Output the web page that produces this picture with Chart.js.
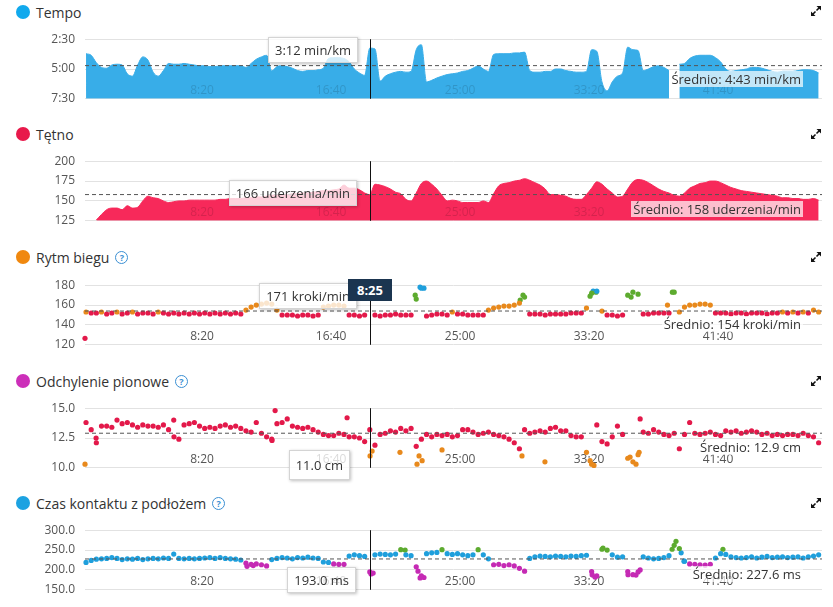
<!DOCTYPE html>
<html>
<head>
<meta charset="utf-8">
<title>Wykresy biegu</title>
<script src="https://cdn.jsdelivr.net/npm/chart.js@4.4.1/dist/chart.umd.min.js"></script>
<style>
  html, body { margin: 0; padding: 0; background: #fff; }
  body { font-family: "Open Sans", sans-serif; color: #333; }
  #wrap { position: relative; width: 833px; height: 607px; overflow: hidden; }
  .title { position: absolute; left: 16px; height: 20px; display: flex; align-items: center; font-size: 14px; color: #333; white-space: nowrap; }
  .dot { width: 14px; height: 14px; border-radius: 50%; margin-right: 6px; }
  .help { width: 11px; height: 11px; border: 1.3px solid #3b8fd3; border-radius: 50%; color: #3b8fd3; font-size: 9px; font-weight: bold; line-height: 11px; text-align: center; margin-left: 6px; }
  .expand { position: absolute; left: 810px; width: 12px; height: 12px; }
  canvas { position: absolute; left: 0; }
  .tip { position: absolute; background: rgba(255,255,255,0.78); border: 1px solid #d4d4d4; box-shadow: 1px 1px 3px rgba(0,0,0,0.25); font-size: 13px; padding: 0 6px; line-height: 24px; white-space: nowrap; }
  .avg { position: absolute; right: 30px; background: rgba(255,255,255,0.7); font-size: 13px; line-height: 16px; padding: 0 2px; white-space: nowrap; }
  .cursor-time { position: absolute; left: 348px; top: 279px; width: 44px; height: 22px; background: #1b3550; color: #fff; font-size: 13px; font-weight: bold; line-height: 22px; text-align: center; }
</style>
</head>
<body>
<div id="wrap">
  <div class="title" style="top:2px"><span class="dot" style="background:#11a9ed"></span>Tempo</div>
  <div class="title" style="top:124px"><span class="dot" style="background:#e8194b"></span>Tętno</div>
  <div class="title" style="top:247px"><span class="dot" style="background:#f0880f"></span>Rytm biegu<span class="help">?</span></div>
  <div class="title" style="top:371px"><span class="dot" style="background:#cc2fb9"></span>Odchylenie pionowe<span class="help">?</span></div>
  <div class="title" style="top:493px"><span class="dot" style="background:#1ca2e1"></span>Czas kontaktu z podłożem<span class="help">?</span></div>

  <svg class="expand" style="top:5px" viewBox="0 0 12 12"><use href="#expandIcon"/></svg>
  <svg class="expand" style="top:128px" viewBox="0 0 12 12"><use href="#expandIcon"/></svg>
  <svg class="expand" style="top:251px" viewBox="0 0 12 12"><use href="#expandIcon"/></svg>
  <svg class="expand" style="top:375px" viewBox="0 0 12 12"><use href="#expandIcon"/></svg>
  <svg class="expand" style="top:497px" viewBox="0 0 12 12"><use href="#expandIcon"/></svg>

  <canvas id="paceChart" width="833" height="94" style="top:22px"></canvas>
  <canvas id="heartChart" width="833" height="94" style="top:144px"></canvas>
  <canvas id="cadenceChart" width="833" height="94" style="top:268px"></canvas>
  <canvas id="voChart" width="833" height="94" style="top:391px"></canvas>
  <canvas id="gctChart" width="833" height="94" style="top:513px"></canvas>

  <div class="tip" style="right:475px;top:37px">3:12 min/km</div>
  <div class="tip" style="right:476px;top:180px">166 uderzenia/min</div>
  <div class="tip" style="right:476px;top:283px">171 kroki/min</div>
  <div class="tip" style="right:483px;top:450px;line-height:28px">11.0 cm</div>
  <div class="tip" style="right:477px;top:567px">193.0 ms</div>
  <div class="cursor-time">8:25</div>

  <div class="avg" style="top:71px">Średnio: 4:43 min/km</div>
  <div class="avg" style="top:201px">Średnio: 158 uderzenia/min</div>
  <div class="avg" style="top:316px">Średnio: 154 kroki/min</div>
  <div class="avg" style="top:439px">Średnio: 12.9 cm</div>
  <div class="avg" style="top:566px">Średnio: 227.6 ms</div>
</div>

<svg width="0" height="0" style="position:absolute">
  <defs>
    <g id="expandIcon" fill="#111" stroke="#111" stroke-width="1.6">
      <line x1="6.5" y1="5.5" x2="10" y2="2" />
      <polygon points="6.5,1 11,1 11,5.5" stroke="none" />
      <line x1="5.5" y1="6.5" x2="2" y2="10" />
      <polygon points="1,6.5 1,11 5.5,11" stroke="none" />
    </g>
  </defs>
</svg>

<script>
// ---- data (time in seconds, one sample every 20 s) ----
const sampleStart = 50;
const sampleStep = 20;
const timeMin = 46;
const timeMax = 2903;
const cursorTime = 1151;

const timeTicks = [500, 1000, 1500, 2000, 2500];
const timeTickLabels = ['8:20', '16:40', '25:00', '33:20', '41:40'];

// Tempo, s/km
const paceValues = [
  223, 231, 268, 292, 296, 280, 276, 280, 324, 336,
  280, 239, 255, 316, 336, 308, 272, 276, 276, 272,
  276, 280, 284, 284, 288, 288, 284, 284, 284, 284,
  284, 292, 272, 251, 239, 231, 310, 288, 284, 288,
  296, 308, 312, 308, 308, 304, 296, 247, 243, 243,
  247, 264, 300, 320, 332, 195, 199, 361, 336, 324,
  316, 312, 316, 312, 203, 178, 365, 357, 345, 336,
  328, 324, 320, 312, 308, 296, 284, 300, 312, 227,
  223, 223, 223, 219, 219, 215, 308, 316, 316, 312,
  312, 300, 300, 308, 312, 316, 316, 312, 203, 211,
  365, 410, 365, 336, 320, 190, 203, 207, 308, 300,
  288, 284, 292, 308, null, 276, 272, 247, 235, 231,
  231, 231, 243, 264, 300, 312, 308, 304, 300, 292,
  292, 296, 304, 312, 316, 312, 312, 312, 308, 304,
  304, 308, 320
];
const paceTicks = [150, 300, 450];
const paceTickLabels = ['2:30', '5:00', '7:30'];
const paceAverage = 283;

// Tętno, bpm
const heartValues = [
  null, null, 126, 133, 139, 141, 141, 139, 144, 141,
  142, 150, 156, 154, 153, 150, 148, 149, 150, 150,
  151, 151, 151, 151, 151, 151, 152, 152, 153, 153,
  153, 154, 154, 155, 155, 156, 157, 158, 158, 158,
  159, 159, 160, 160, 161, 162, 163, 163, 164, 165,
  170, 166, 166, 164, 160, 158, 171, 170, 168, 165,
  161, 159, 152, 150, 160, 172, 175, 171, 165, 157,
  150, 151, 150, 148, 148, 148, 148, 150, 148, 159,
  169, 172, 173, 175, 176, 178, 176, 173, 170, 165,
  158, 158, 157, 156, 153, 152, 152, 158, 166, 174,
  171, 165, 160, 155, 156, 165, 174, 177, 176, 173,
  169, 165, 162, 160, 157, 156, 160, 166, 169, 172,
  173, 175, 175, 173, 170, 167, 165, 163, 162, 161,
  160, 159, 158, 157, 156, 154, 154, 153, 153, 152,
  152, 153, 151
];
const heartTicks = [125, 150, 175, 200];
const heartTickLabels = ['125', '150', '175', '200'];
const heartAverage = 158;

// Rytm biegu, kroki/min
const cadenceValues = [
  153, 152, 152, 153, 151, 152, 153, 151, 152, 153,
  151, 152, 152, 151, 153, 152, 151, 152, 151, 152,
  151, 152, 151, 152, 151, 152, 151, 152, 151, 152,
  151, 155, 158, 160, 161, 162, 161, 155, 150, 150,
  150, 149, 150, 150, 149, 150, 158, 159, 160, 160,
  159, 150, 150, 149, 150, null, 150, 149, 150, 150,
  151, 150, 150, 150, 166, 177, 149, 150, 151, 151,
  150, 153, 151, 151, 150, 150, 150, 150, 155, 157,
  158, 159, 159, 160, 162, 168, 151, 151, 151, 150,
  151, 151, 151, 151, 152, 152, 152, 157, 172, 174,
  154, 150, 150, 149, 150, 170, 173, 171, 151, 151,
  152, 152, 152, 152, 173, 153, 158, 160, 160, 161,
  161, 160, 152, 152, 152, 151, 152, 152, 151, 152,
  152, 152, 151, 152, 152, 153, 152, 153, 152, 153,
  152, 155, 153
];
const cadenceExtraTimes = [46, 1326, 1345, 1360, 1733, 1744, 2004, 2016, 2027, 2163, 2304, 2323];
const cadenceExtraValues = [126.5, 170, 178, 177, 165, 170, 169, 174, 173, 168, 160, 173];
const cadenceTicks = [120, 140, 160, 180];
const cadenceTickLabels = ['120', '140', '160', '180'];
const cadenceAverage = 154;

// Odchylenie pionowe, cm
const voValues = [
  13.8, 13.2, 12.1, 13.5, 13.5, 13.4, 14.0, 13.7, 13.8, 13.6,
  13.4, 13.6, 13.5, 13.5, 13.4, 13.6, 13.2, 14.0, 12.4, 13.6,
  13.7, 13.8, 13.5, 13.3, 13.4, 13.3, 13.5, 13.6, 13.4, 13.5,
  13.3, 13.1, 13.0, 13.8, 12.9, 12.6, 12.4, 13.7, 13.8, 14.1,
  13.5, 13.4, 13.3, 13.4, 13.2, 13.0, 12.8, 12.7, 12.7, 12.9,
  12.8, 12.6, 12.6, 12.5, 12.2, 13.2, 11.9, 12.8, 12.9, 13.1,
  13.0, 13.3, 13.1, 13.3, 11.8, 12.4, 12.8, 12.6, 12.8, 12.7,
  12.8, 12.6, 12.7, 13.2, 13.2, 13.0, 12.8, 12.9, 13.0, 12.8,
  12.7, 12.6, 12.4, 12.1, 11.6, 13.2, 12.9, 13.0, 13.1, 13.0,
  13.3, 13.4, 13.1, 13.1, 12.7, 12.6, 12.6, 11.3, 10.3, 13.6,
  12.2, 12.0, 12.6, 13.5, 12.8, 10.8, 10.5, 11.1, 13.0, 12.9,
  13.2, 13.0, 12.8, 12.7, 12.9, 11.6, 12.8, 13.8, 12.9, 12.8,
  12.9, 13.0, 12.8, 12.7, 13.1, 13.0, 13.1, 12.9, 13.0, 13.1,
  13.0, 12.8, 12.9, 12.7, 12.8, 12.7, 12.8, 12.8, 12.7, 12.9,
  12.7, 12.6, 12.1
];
const voExtraTimes = [46, 89, 391, 771, 783, 1062, 1151, 1159, 1267, 1333, 1341, 1353, 1430, 1740, 1829, 2004, 2019, 2159, 2182, 2194, 2198];
const voExtraValues = [10.3, 12.5, 12.6, 12.3, 14.8, 14.2, 11.0, 11.4, 11.3, 10.3, 11.0, 10.6, 11.5, 11.0, 10.5, 10.6, 10.2, 10.9, 10.3, 11.3, 14.1];
const voTicks = [10, 12.5, 15];
const voTickLabels = ['10.0', '12.5', '15.0'];
const voAverage = 12.9;

// Czas kontaktu z podłożem, ms
const gctValues = [
  219, 224, 227, 228, 229, 231, 229, 226, 228, 227,
  229, 226, 228, 229, 228, 230, 229, 240, 229, 228,
  229, 228, 229, 230, 231, 229, 231, 229, 228, 227,
  225, 217, 214, 215, 213, 210, 226, 229, 231, 230,
  228, 231, 230, 232, 230, 229, 220, 219, 215, 214,
  214, 235, 238, 236, 234, 195, 238, 240, 239, 238,
  240, 251, 238, 236, 208, 185, 241, 243, 244, 251,
  241, 239, 241, 238, 236, 238, 251, 238, 228, 213,
  214, 211, 213, 210, 204, 197, 229, 233, 235, 234,
  233, 235, 234, 233, 235, 234, 236, 237, 196, 185,
  252, 250, 238, 232, 233, 196, 188, 195, 233, 230,
  228, 229, 231, 236, 262, 254, 222, 215, 214, 213,
  212, 214, 230, 241, 239, 233, 231, 230, 231, 233,
  230, 232, 234, 231, 232, 233, 231, 232, 233, 230,
  233, 235, 238
];
const gctExtraTimes = [674, 698, 1155, 1163, 1287, 1337, 1345, 1360, 2012, 2023, 2054, 2151, 2182, 2198, 2322, 2337, 2357, 2368, 2519];
const gctExtraValues = [209, 211, 190, 192, 250, 197, 180, 181, 188, 182, 255, 188, 187, 200, 252, 272, 243, 222, 252];
const gctTicks = [150, 200, 250, 300];
const gctTickLabels = ['150.0', '200.0', '250.0', '300.0'];
const gctAverage = 227.6;

// ---- styling ----
const zoneColors = {
    red: '#e3194a',
    orange: '#e8891c',
    green: '#5dab2f',
    blue: '#1f9fdc',
    purple: '#c52ab4'
};

function cadenceZone(v) {
    if (v >= 183) return zoneColors.purple;
    if (v >= 174) return zoneColors.blue;
    if (v >= 163) return zoneColors.green;
    if (v >= 153) return zoneColors.orange;
    return zoneColors.red;
}
function voZone(v) {
    if (v >= 11.6) return zoneColors.red;
    if (v >= 9.8) return zoneColors.orange;
    if (v >= 8.2) return zoneColors.green;
    if (v >= 6.4) return zoneColors.blue;
    return zoneColors.purple;
}
function gctZone(v) {
    if (v >= 309) return zoneColors.red;
    if (v >= 278) return zoneColors.orange;
    if (v >= 249) return zoneColors.green;
    if (v >= 218) return zoneColors.blue;
    return zoneColors.purple;
}

Chart.defaults.font.family = '"Open Sans", sans-serif';

const sampleTimes = paceValues.map((_, i) => sampleStart + i * sampleStep);

function toSeries(times, values, keepGaps) {
    const pts = [];
    values.forEach((v, i) => {
        if (v !== null || keepGaps) pts.push({ x: times[i], y: v });
    });
    return pts;
}

// vertical cursor line through every panel
const cursorLine = {
    id: 'cursorLine',
    afterDatasetsDraw(chart) {
        const { ctx, chartArea } = chart;
        const x = Math.round(chart.scales.x.getPixelForValue(cursorTime)) + 0.5;
        ctx.save();
        ctx.strokeStyle = '#111';
        ctx.lineWidth = 1;
        ctx.beginPath();
        ctx.moveTo(x, chartArea.top);
        ctx.lineTo(x, chartArea.bottom);
        ctx.stroke();
        ctx.restore();
    }
};

function buildPanel(canvasId, opts) {
    const datasets = [{
        data: [{ x: timeMin, y: opts.average }, { x: timeMax, y: opts.average }],
        borderColor: '#555',
        borderWidth: 1,
        borderDash: [4, 3],
        pointRadius: 0,
        order: 0
    }];

    if (opts.area) {
        datasets.push({
            data: toSeries(sampleTimes, opts.area.values, true),
            borderColor: opts.area.color,
            backgroundColor: opts.area.color,
            borderWidth: 1,
            pointRadius: 0,
            fill: { value: opts.area.base },
            cubicInterpolationMode: 'monotone',
            spanGaps: false,
            order: 1
        });
    }

    (opts.scatter || []).forEach(points => {
        datasets.push({
            data: points,
            showLine: false,
            pointRadius: 2.6,
            pointBorderWidth: 0,
            pointBackgroundColor: ctx => ctx.raw ? opts.zone(ctx.raw.y) : '#000',
            clip: 6,
            order: 1
        });
    });

    new Chart(document.getElementById(canvasId), {
        type: 'line',
        data: { datasets },
        options: {
            responsive: false,
            animation: false,
            events: [],
            layout: { padding: { top: 10, bottom: 10, left: 0, right: 11 } },
            plugins: { legend: { display: false }, tooltip: { enabled: false } },
            scales: {
                x: {
                    type: 'linear',
                    min: timeMin,
                    max: timeMax,
                    grid: { display: false },
                    border: { display: false },
                    afterFit: s => { s.height = 0; },
                    afterBuildTicks: s => { s.ticks = timeTicks.map(v => ({ value: v })); },
                    ticks: {
                        mirror: true,
                        padding: 1,
                        autoSkip: false,
                        maxRotation: 0,
                        z: opts.area ? 1 : 0,
                        color: opts.area ? 'rgba(0,0,0,0.14)' : '#555',
                        font: { size: 12 },
                        callback: v => timeTickLabels[timeTicks.indexOf(v)]
                    }
                },
                y: {
                    min: opts.ticks[0],
                    max: opts.ticks[opts.ticks.length - 1],
                    reverse: !!opts.reverse,
                    grid: { color: '#e2e2e2', drawTicks: false },
                    border: { display: false },
                    afterFit: s => { s.width = 85; },
                    afterBuildTicks: s => { s.ticks = opts.ticks.map(v => ({ value: v })); },
                    ticks: {
                        padding: 10,
                        color: '#555',
                        font: { size: 12 },
                        callback: v => opts.tickLabels[opts.ticks.indexOf(v)]
                    }
                }
            }
        },
        plugins: [cursorLine]
    });
}

buildPanel('paceChart', {
    area: { values: paceValues, color: '#38ade8', base: 450 },
    reverse: true,
    ticks: paceTicks,
    tickLabels: paceTickLabels,
    average: paceAverage
});

buildPanel('heartChart', {
    area: { values: heartValues, color: '#f7295a', base: 125 },
    ticks: heartTicks,
    tickLabels: heartTickLabels,
    average: heartAverage
});

buildPanel('cadenceChart', {
    scatter: [toSeries(sampleTimes, cadenceValues), toSeries(cadenceExtraTimes, cadenceExtraValues)],
    zone: cadenceZone,
    ticks: cadenceTicks,
    tickLabels: cadenceTickLabels,
    average: cadenceAverage
});

buildPanel('voChart', {
    scatter: [toSeries(sampleTimes, voValues), toSeries(voExtraTimes, voExtraValues)],
    zone: voZone,
    ticks: voTicks,
    tickLabels: voTickLabels,
    average: voAverage
});

buildPanel('gctChart', {
    scatter: [toSeries(sampleTimes, gctValues), toSeries(gctExtraTimes, gctExtraValues)],
    zone: gctZone,
    ticks: gctTicks,
    tickLabels: gctTickLabels,
    average: gctAverage
});
</script>
</body>
</html>
